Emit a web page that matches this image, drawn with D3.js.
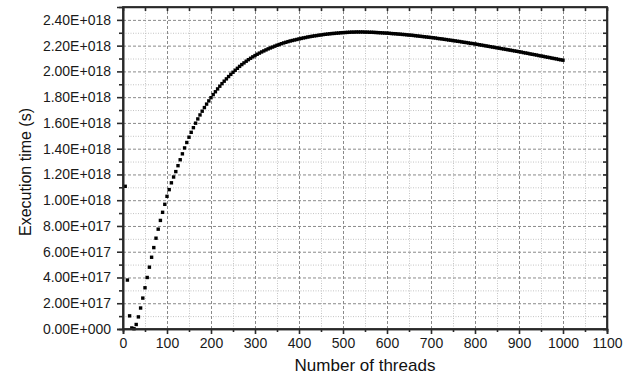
<!DOCTYPE html>
<html>
<head>
<meta charset="utf-8">
<script src="https://cdn.jsdelivr.net/npm/d3@7/dist/d3.min.js"></script>
<style>
  body { margin: 0; background: #fff; }
  svg { display: block; font-family: "Liberation Sans", Arial, sans-serif; }
  .major line { stroke: #8a8a8a; stroke-dasharray: 3,2; }
  .minor line { stroke: #c4c4c4; stroke-dasharray: 1,1.5; }
  .grid path { display: none; }
  .axis path, .axis line { stroke: #2a2a2a; }
  .axis text { fill: #1a1a1a; }
</style>
</head>
<body>
<svg id="chart"></svg>
<script>
// x: number of threads, y: execution time in units of 1E+018 s
var threads = [
  5, 10, 15, 20, 25, 30, 35, 40, 45, 50, 55, 60, 65, 70, 75, 80, 85, 90, 95, 100,
  105, 110, 115, 120, 125, 130, 135, 140, 145, 150, 155, 160, 165, 170, 175, 180, 185, 190, 195, 200,
  205, 210, 215, 220, 225, 230, 235, 240, 245, 250, 255, 260, 265, 270, 275, 280, 285, 290, 295, 300,
  305, 310, 315, 320, 325, 330, 335, 340, 345, 350, 355, 360, 365, 370, 375, 380, 385, 390, 395, 400,
  405, 410, 415, 420, 425, 430, 435, 440, 445, 450, 455, 460, 465, 470, 475, 480, 485, 490, 495, 500,
  505, 510, 515, 520, 525, 530, 535, 540, 545, 550, 555, 560, 565, 570, 575, 580, 585, 590, 595, 600,
  605, 610, 615, 620, 625, 630, 635, 640, 645, 650, 655, 660, 665, 670, 675, 680, 685, 690, 695, 700,
  705, 710, 715, 720, 725, 730, 735, 740, 745, 750, 755, 760, 765, 770, 775, 780, 785, 790, 795, 800,
  805, 810, 815, 820, 825, 830, 835, 840, 845, 850, 855, 860, 865, 870, 875, 880, 885, 890, 895, 900,
  905, 910, 915, 920, 925, 930, 935, 940, 945, 950, 955, 960, 965, 970, 975, 980, 985, 990, 995, 1000
];
var execTime = [
  1.108, 0.380, 0.102, 0.008, 0.002, 0.035, 0.094, 0.163, 0.240, 0.320, 0.400, 0.480, 0.557, 0.632, 0.705, 0.775, 0.843, 0.906, 0.968, 1.030,
  1.082, 1.135, 1.180, 1.222, 1.268, 1.314, 1.360, 1.406, 1.448, 1.489, 1.527, 1.563, 1.598, 1.631, 1.662, 1.691, 1.719, 1.746, 1.771, 1.796,
  1.820, 1.842, 1.864, 1.885, 1.905, 1.924, 1.942, 1.960, 1.977, 1.993, 2.009, 2.024, 2.039, 2.053, 2.066, 2.079, 2.091, 2.102, 2.113, 2.123,
  2.133, 2.142, 2.151, 2.159, 2.167, 2.175, 2.182, 2.189, 2.196, 2.203, 2.209, 2.215, 2.221, 2.226, 2.231, 2.236, 2.240, 2.244, 2.248, 2.252,
  2.256, 2.260, 2.263, 2.267, 2.270, 2.273, 2.276, 2.278, 2.281, 2.283, 2.286, 2.288, 2.290, 2.292, 2.294, 2.295, 2.297, 2.298, 2.300, 2.301,
  2.302, 2.303, 2.304, 2.305, 2.305, 2.306, 2.306, 2.306, 2.306, 2.305, 2.305, 2.304, 2.304, 2.303, 2.302, 2.301, 2.300, 2.299, 2.298, 2.297,
  2.296, 2.294, 2.293, 2.292, 2.290, 2.289, 2.287, 2.286, 2.284, 2.282, 2.281, 2.279, 2.277, 2.275, 2.273, 2.271, 2.269, 2.267, 2.265, 2.263,
  2.261, 2.259, 2.256, 2.254, 2.252, 2.249, 2.247, 2.244, 2.242, 2.239, 2.237, 2.234, 2.232, 2.229, 2.226, 2.224, 2.221, 2.218, 2.216, 2.213,
  2.210, 2.207, 2.204, 2.201, 2.198, 2.195, 2.192, 2.189, 2.186, 2.183, 2.180, 2.177, 2.174, 2.171, 2.168, 2.165, 2.162, 2.159, 2.156, 2.153,
  2.150, 2.146, 2.143, 2.140, 2.136, 2.133, 2.130, 2.127, 2.123, 2.120, 2.117, 2.113, 2.110, 2.107, 2.103, 2.100, 2.097, 2.093, 2.090, 2.087
];
var unit = 1e18;

var xMajor = [0, 100, 200, 300, 400, 500, 600, 700, 800, 900, 1000, 1100];
var xMinor = [50, 150, 250, 350, 450, 550, 650, 750, 850, 950, 1050];
var yMajor = [0, 0.2, 0.4, 0.6, 0.8, 1.0, 1.2, 1.4, 1.6, 1.8, 2.0, 2.2, 2.4];
var yMinor = [0.1, 0.3, 0.5, 0.7, 0.9, 1.1, 1.3, 1.5, 1.7, 1.9, 2.1, 2.3];

var W = 636, H = 376;
var margin = {top: 7, right: 29, bottom: 47, left: 123},
    width = W - margin.left - margin.right,
    height = H - margin.top - margin.bottom;

var svg = d3.select('#chart').attr('width', W).attr('height', H);
var g = svg.append('g').attr('transform', 'translate(' + margin.left + ',' + margin.top + ')');

var x = d3.scaleLinear().domain([0, 1100]).range([0, width]);
var y = d3.scaleLinear().domain([0, 2.5]).range([height, 0]);

// scientific labels like 2.40E+018
function sci(v) {
  var val = v * unit;
  if (val === 0) return '0.00E+000';
  var e = Math.floor(Math.log10(val) + 1e-9);
  var m = val / Math.pow(10, e);
  return m.toFixed(2) + 'E+' + String(e).padStart(3, '0');
}

//-------------------grid----------------
g.append('g').attr('class', 'grid minor')
  .call(d3.axisLeft(y).tickValues(yMinor).tickSize(-width).tickFormat(''));
g.append('g').attr('class', 'grid minor')
  .attr('transform', 'translate(0,' + height + ')')
  .call(d3.axisBottom(x).tickValues(xMinor).tickSize(-height).tickFormat(''));
g.append('g').attr('class', 'grid major')
  .call(d3.axisLeft(y).tickValues(yMajor.slice(1)).tickSize(-width).tickFormat(''));
g.append('g').attr('class', 'grid major')
  .attr('transform', 'translate(0,' + height + ')')
  .call(d3.axisBottom(x).tickValues(xMajor.slice(1, -1)).tickSize(-height).tickFormat(''));

//-------------------points----------------
var pts = threads.map(function(t, i) { return {t: t, v: execTime[i]}; });
var s = 3.4;
g.append('g').selectAll('rect')
  .data(pts)
  .enter().append('rect')
  .attr('x', function(d) { return x(d.t) - s / 2; })
  .attr('y', function(d) { return y(d.v) - s / 2; })
  .attr('width', s)
  .attr('height', s)
  .attr('fill', '#000');

//-------------------axes----------------
g.append('g').attr('class', 'axis')
  .call(d3.axisLeft(y).tickValues(yMajor).tickSize(6).tickPadding(6).tickFormat(sci));
g.append('g').attr('class', 'axis')
  .call(d3.axisLeft(y).tickValues(yMinor).tickSize(4).tickFormat(''));
g.append('g').attr('class', 'axis')
  .attr('transform', 'translate(0,' + height + ')')
  .call(d3.axisBottom(x).tickValues(xMajor).tickSize(5).tickPadding(4).tickFormat(d3.format('d')));
g.append('g').attr('class', 'axis')
  .attr('transform', 'translate(0,' + height + ')')
  .call(d3.axisBottom(x).tickValues(xMinor).tickSize(3).tickFormat(''));
// top and right: inward ticks
g.append('g').attr('class', 'axis')
  .call(d3.axisBottom(x).tickValues(xMajor.concat(xMinor)).tickSize(4).tickSizeOuter(0).tickFormat(''));
g.append('g').attr('class', 'axis')
  .attr('transform', 'translate(' + width + ',0)')
  .call(d3.axisLeft(y).tickValues(yMajor.concat(yMinor)).tickSize(4).tickSizeOuter(0).tickFormat(''));

// d3 puts font-family="sans-serif" on each axis, swap it for ours
svg.selectAll('.axis').attr('font-family', null);
svg.selectAll('.axis text').style('font-size', '14px');
svg.selectAll('.axis path, .axis line').style('stroke-width', 1.6);

// frame
g.append('rect')
  .attr('width', width).attr('height', height)
  .attr('fill', 'none').attr('stroke', '#2a2a2a').attr('stroke-width', 1.8);

//-------------------labels----------------
svg.append('text')
  .attr('x', margin.left + width / 2)
  .attr('y', 371)
  .attr('text-anchor', 'middle')
  .style('font-size', '17px')
  .style('fill', '#111')
  .text('Number of threads');

svg.append('text')
  .attr('transform', 'translate(31,172) rotate(-90)')
  .attr('text-anchor', 'middle')
  .style('font-size', '16px')
  .style('fill', '#111')
  .text('Execution time (s)');
</script>
</body>
</html>
